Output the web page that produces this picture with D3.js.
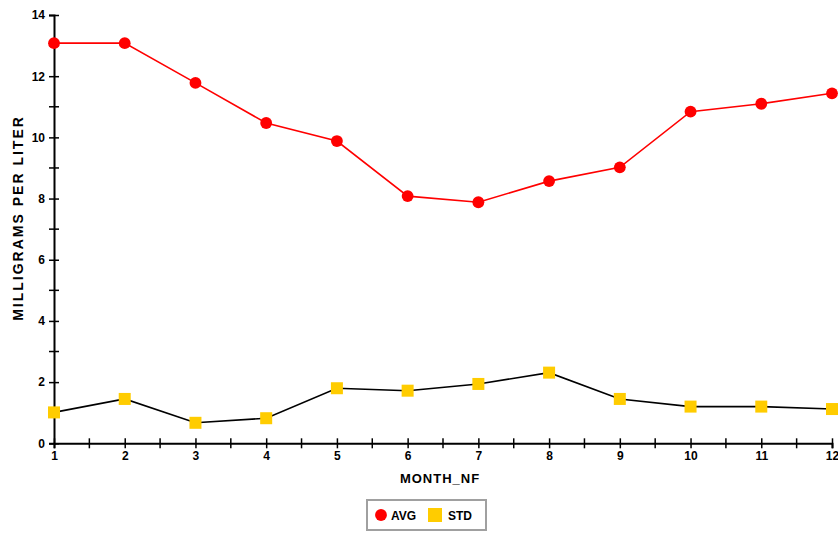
<!DOCTYPE html>
<html><head><meta charset="utf-8">
<script src="https://cdn.jsdelivr.net/npm/d3@7"></script>
<style>
body{margin:0;background:#fff;}
svg{display:block;font-family:"Liberation Sans Narrow","Liberation Sans",Arial,sans-serif;font-weight:bold;}
</style></head>
<body><svg id="c" width="838" height="533"></svg>
<script>
const months = [1,2,3,4,5,6,7,8,9,10,11,12];
const avgValues = [13.08,13.08,11.78,10.47,9.88,8.08,7.88,8.57,9.02,10.84,11.1,11.44];
const stdValues = [1.01,1.45,0.67,0.82,1.8,1.72,1.94,2.31,1.45,1.2,1.2,1.12];
const yTickLabels = [0,2,4,6,8,10,12,14];
const xTickLabels = ["1","2","3","4","5","6","7","8","9","10","11","12"];
const seriesNames = ["AVG","STD"];

const svg = d3.select("#c");
const x = d3.scaleLinear().domain([1,12]).range([54,832]);
const y = d3.scaleLinear().domain([0,14]).range([443.3,15]);

const minorY = d3.range(1,14,2);
const minorX = d3.range(1.5,12,1);
const g = svg.append("g");

// Y axis
const yAxis = g.append("g").attr("transform","translate(54,0)")
  .call(d3.axisLeft(y).tickValues(yTickLabels).tickSize(5).tickPadding(4).tickFormat(d3.format("d")));
yAxis.selectAll(".tick line").clone().attr("x2",5);
yAxis.selectAll(".tick text").attr("font-size",12).attr("font-weight","bold");
yAxis.select(".domain").attr("stroke-width",2);
yAxis.selectAll(".tick line").attr("stroke-width",1.5);
g.append("g").selectAll("line").data(minorY).join("line")
  .attr("x1",49).attr("x2",59).attr("y1",d=>y(d)).attr("y2",d=>y(d))
  .attr("stroke","#000").attr("stroke-width",1.5);

// X axis
const xAxis = g.append("g").attr("transform","translate(0,443.3)")
  .call(d3.axisBottom(x).tickValues(months).tickSize(5).tickPadding(3).tickFormat((d,i)=>xTickLabels[i]));
xAxis.selectAll(".tick line").clone().attr("y2",-5);
xAxis.selectAll(".tick text").attr("font-size",12).attr("font-weight","bold");
xAxis.select(".domain").attr("stroke-width",2);
xAxis.selectAll(".tick line").attr("stroke-width",1.5);
g.append("g").selectAll("line").data(minorX).join("line")
  .attr("x1",d=>x(d)).attr("x2",d=>x(d)).attr("y1",438.3).attr("y2",448.3)
  .attr("stroke","#000").attr("stroke-width",1.5);

// titles
svg.append("text").attr("x",440).attr("y",483).attr("text-anchor","middle")
  .attr("font-size",13).attr("letter-spacing",1).text("MONTH_NF");
svg.append("text").attr("transform","translate(23,218) rotate(-90)").attr("text-anchor","middle")
  .attr("font-size",14).attr("letter-spacing",2).text("MILLIGRAMS PER LITER");

// lines
const line = d3.line().x((d,i)=>x(months[i])).y(d=>y(d));
svg.append("path").datum(stdValues).attr("d",line).attr("fill","none").attr("stroke","#000").attr("stroke-width",1.6);
svg.append("path").datum(avgValues).attr("d",line).attr("fill","none").attr("stroke","#ff0000").attr("stroke-width",1.6);

// markers
const oct = d3.symbol().type(d3.symbolCircle).size(110);
svg.append("g").selectAll("path").data(avgValues).join("path")
  .attr("transform",(d,i)=>`translate(${x(months[i])},${y(d)})`)
  .attr("d",oct).attr("fill","#ff0000");
svg.append("g").selectAll("rect").data(stdValues).join("rect")
  .attr("x",(d,i)=>x(months[i])-6).attr("y",d=>y(d)-6).attr("width",12).attr("height",12)
  .attr("fill","#ffcc00");

// legend
const lg = svg.append("g");
lg.append("rect").attr("x",367).attr("y",500).attr("width",119).attr("height",30)
  .attr("fill","#fff").attr("stroke","#a0a0a0").attr("stroke-width",2);
lg.append("path").attr("transform","translate(381,515)").attr("d",oct).attr("fill","#ff0000");
lg.append("text").attr("x",391).attr("y",520).attr("font-size",12).text(seriesNames[0]);
lg.append("rect").attr("x",428).attr("y",508).attr("width",14).attr("height",14).attr("fill","#ffcc00");
lg.append("text").attr("x",448).attr("y",520).attr("font-size",12).text(seriesNames[1]);
</script></body></html>
